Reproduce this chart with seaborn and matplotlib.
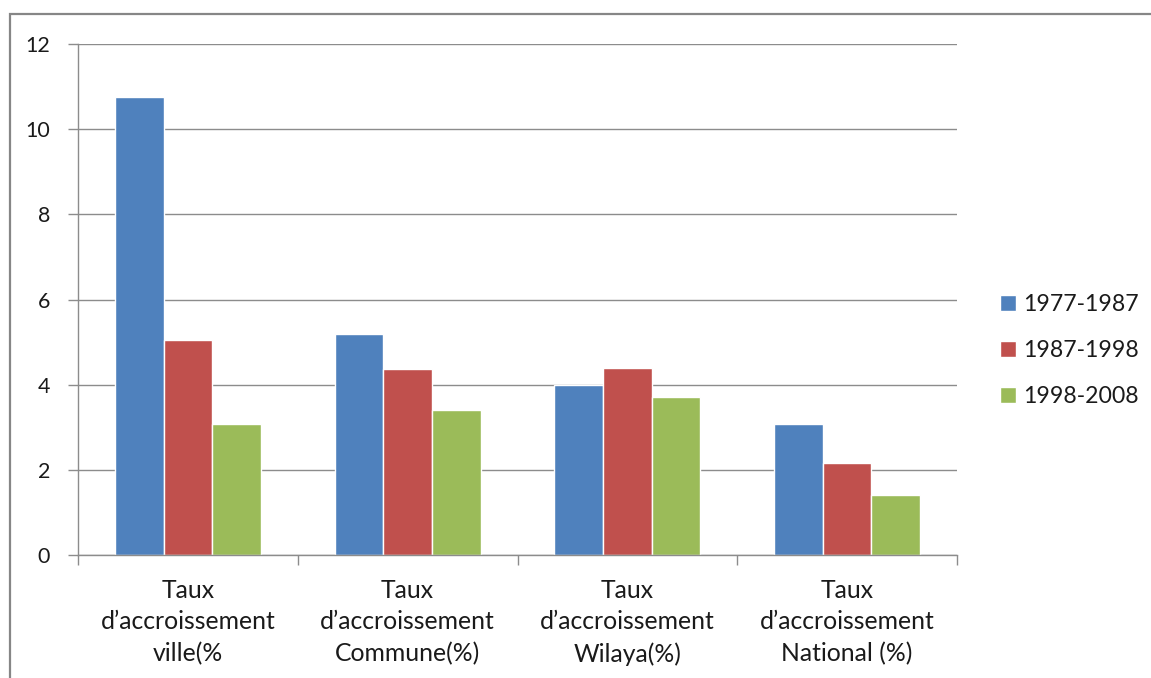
import matplotlib
matplotlib.use("Agg")
import matplotlib.pyplot as plt
from matplotlib.patches import Rectangle
import seaborn as sns
import pandas as pd

# Growth rates (%) per level and census period
categories = [
    "Taux\nd\u2019accroissement\nville(%",
    "Taux\nd\u2019accroissement\nCommune(%)",
    "Taux\nd\u2019accroissement\nWilaya(%)",
    "Taux\nd\u2019accroissement\nNational (%)",
]
periods = ["1977-1987", "1987-1998", "1998-2008"]
rate_1977_1987 = [10.75, 5.18, 4.0, 3.07]
rate_1987_1998 = [5.05, 4.37, 4.4, 2.17]
rate_1998_2008 = [3.07, 3.4, 3.7, 1.42]
y_ticks = [0, 2, 4, 6, 8, 10, 12]

colors = ["#4F81BD", "#C0504D", "#9BBB59"]

rows = []
for period, values in zip(periods, [rate_1977_1987, rate_1987_1998, rate_1998_2008]):
    for cat, v in zip(categories, values):
        rows.append({"cat": cat, "period": period, "value": v})
df = pd.DataFrame(rows)

sns.set_style("white")
plt.rcParams["font.family"] = ["Lato", "DejaVu Sans"]

W, H = 1151, 678
fig = plt.figure(figsize=(W / 100, H / 100), dpi=100)
fig.patch.set_facecolor("white")


def fit_size(sample, target_px, base=10.0):
    """Font size at which `sample` spans target_px pixels."""
    t = fig.text(0, 0, sample, fontsize=base)
    w = t.get_window_extent(renderer=fig.canvas.get_renderer()).width
    t.remove()
    return base * target_px / w


cat_fs = fit_size("d\u2019accroissement", 175)
leg_fs = fit_size("1977-1987", 115)
ytk_fs = fit_size("12", 25)

# outer chart frame
fig.add_artist(Rectangle((10 / W, -0.1), 1.2, 1 - 14 / H + 0.1,
                         transform=fig.transFigure, fill=False,
                         edgecolor="#868686", linewidth=1.6))

ax = fig.add_axes([78 / W, 1 - 555 / H, (957 - 78) / W, (555 - 44) / H])
sns.barplot(data=df, x="cat", y="value", hue="period", order=categories,
            hue_order=periods, palette=colors, width=0.664, gap=0,
            saturation=1, ax=ax, legend=True)

ax.set_ylim(0, 12)
ax.set_xlim(-0.5, 3.5)
ax.set_yticks(y_ticks)
ax.set_yticklabels([str(t) for t in y_ticks], fontsize=ytk_fs, color="#1a1a1a")
ax.yaxis.grid(True, color="#8c8c8c", linewidth=1)
ax.set_axisbelow(True)
ax.set_xlabel("")
ax.set_ylabel("")

for s in ["top", "right"]:
    ax.spines[s].set_visible(False)
for s in ["left", "bottom"]:
    ax.spines[s].set_color("#8c8c8c")
    ax.spines[s].set_linewidth(1)

ax.tick_params(axis="y", which="major", length=7, color="#8c8c8c", width=1,
               direction="out", left=True, pad=13)
ax.tick_params(axis="x", which="major", length=0, pad=17)
ax.set_xticks([-0.5, 0.5, 1.5, 2.5, 3.5], minor=True)
ax.tick_params(axis="x", which="minor", length=7, color="#8c8c8c", width=1,
               direction="out", bottom=True)
ax.set_xticks(range(len(categories)))
ax.set_xticklabels(categories, fontsize=cat_fs, color="#1a1a1a", linespacing=1.45)

leg = ax.legend(loc="center left", bbox_to_anchor=(1.025, 0.40), frameon=False,
                fontsize=leg_fs, handlelength=0.7, handleheight=0.7,
                handletextpad=0.3, labelspacing=1.1)
for t in leg.get_texts():
    t.set_color("#1a1a1a")

fig.savefig("out.png", dpi=100, facecolor="white")
